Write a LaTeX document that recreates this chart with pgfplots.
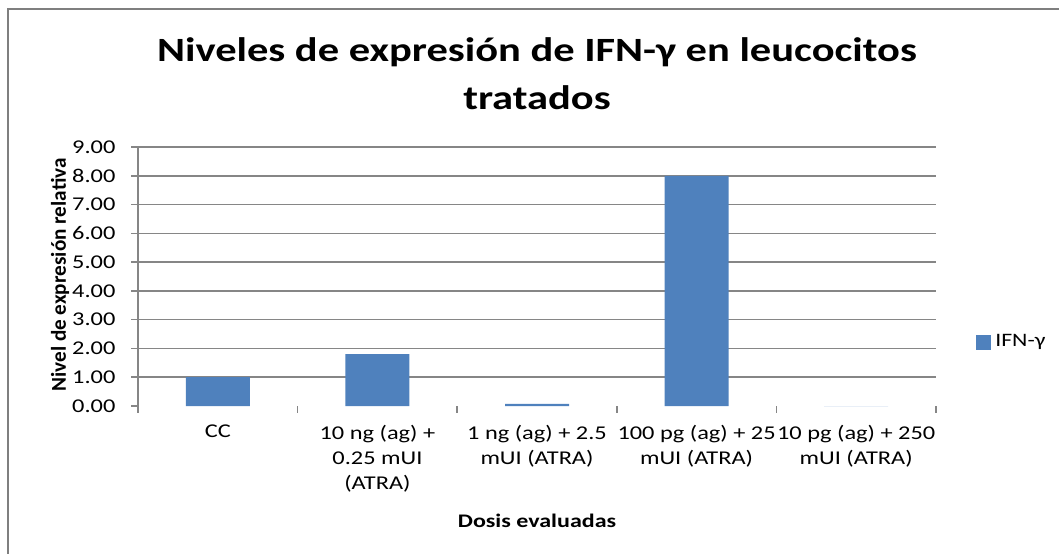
\documentclass[border=0pt]{standalone}
\usepackage{fontspec}
\setmainfont{Carlito}[FakeStretch=1.25]
\newfontfamily\plainfont{Carlito}
\usepackage{pgfplots}
\pgfplotsset{compat=1.18}
\definecolor{barblue}{HTML}{4F81BD}
\definecolor{gridgray}{HTML}{868686}
\definecolor{framegray}{HTML}{7F7F7F}
\begin{document}
\begin{tikzpicture}
\useasboundingbox (0,0) rectangle (529.5pt,276.5pt);
\draw[color=framegray, line width=1pt] (4pt,-2pt) -- (4pt,272pt) -- (532pt,272pt);
\begin{axis}[
  at={(69pt,73.5pt)}, anchor=south west,
  scale only axis, width=399pt, height=129.5pt,
  xmin=0.5, xmax=5.5, ymin=0, ymax=9,
  axis x line*=bottom, axis y line*=left,
  x axis line style={draw=none},
  y axis line style={draw=gridgray, line width=0.75pt},
  tick align=outside, major tick length=3.25pt,
  tick style={draw=gridgray, line width=0.75pt},
  xtick={0.5,1.5,2.5,3.5,4.5,5.5}, xticklabels={},
  extra x ticks={1,2,3,4,5},
  extra x tick labels={CC,{10 ng (ag) +\\0.25 mUI\\(ATRA)},{1 ng (ag) + 2.5\\mUI (ATRA)},{100 pg (ag) + 25\\mUI (ATRA)},{10 pg (ag) + 250\\mUI (ATRA)}},
  extra x tick style={major tick length=0pt,
    xticklabel style={align=center, font=\fontsize{9.75}{12.5}\selectfont, yshift=-6pt}},
  ytick={0,1,...,9},
  yticklabel style={font=\fontsize{9.75}{10}\selectfont, xshift=-4.5pt},
  /pgf/number format/.cd, fixed, fixed zerofill, precision=2, assume math mode=true,
  /pgfplots/.cd,
  extra y ticks={1,2,...,9},
  extra y tick labels={},
  extra y tick style={grid=major, major tick length=0pt,
    major grid style={draw=gridgray, line width=0.75pt}},
  ybar, bar width=32pt,
  legend style={at={(1.050,0.247)}, anchor=west, draw=none, fill=none,
    font=\fontsize{9.5}{10}\selectfont, inner sep=0pt},
  legend image code/.code={\fill[barblue] (0pt,-3.75pt) rectangle (7.5pt,3.75pt);},
]
\addplot[fill=barblue, draw=none] coordinates {(1,1.00) (2,1.80) (3,0.07) (4,8.00) (5,0.00)};
\addlegendentry{IFN-γ}
\end{axis}
\node[anchor=base, font=\fontsize{17}{17}\selectfont\bfseries] at (268.5pt,245.5pt) {Niveles de expresión de IFN-γ en leucocitos};
\node[anchor=base, font=\fontsize{17}{17}\selectfont\bfseries] at (268.5pt,222pt) {tratados};
\node[anchor=base, font=\fontsize{9.6}{10}\selectfont\bfseries] at (268.5pt,13pt) {Dosis evaluadas};
\node[rotate=90, anchor=center, font=\plainfont\fontsize{10.6}{11}\selectfont\bfseries] at (30pt,139pt) {Nivel de expresión relativa};
\end{tikzpicture}
\end{document}
